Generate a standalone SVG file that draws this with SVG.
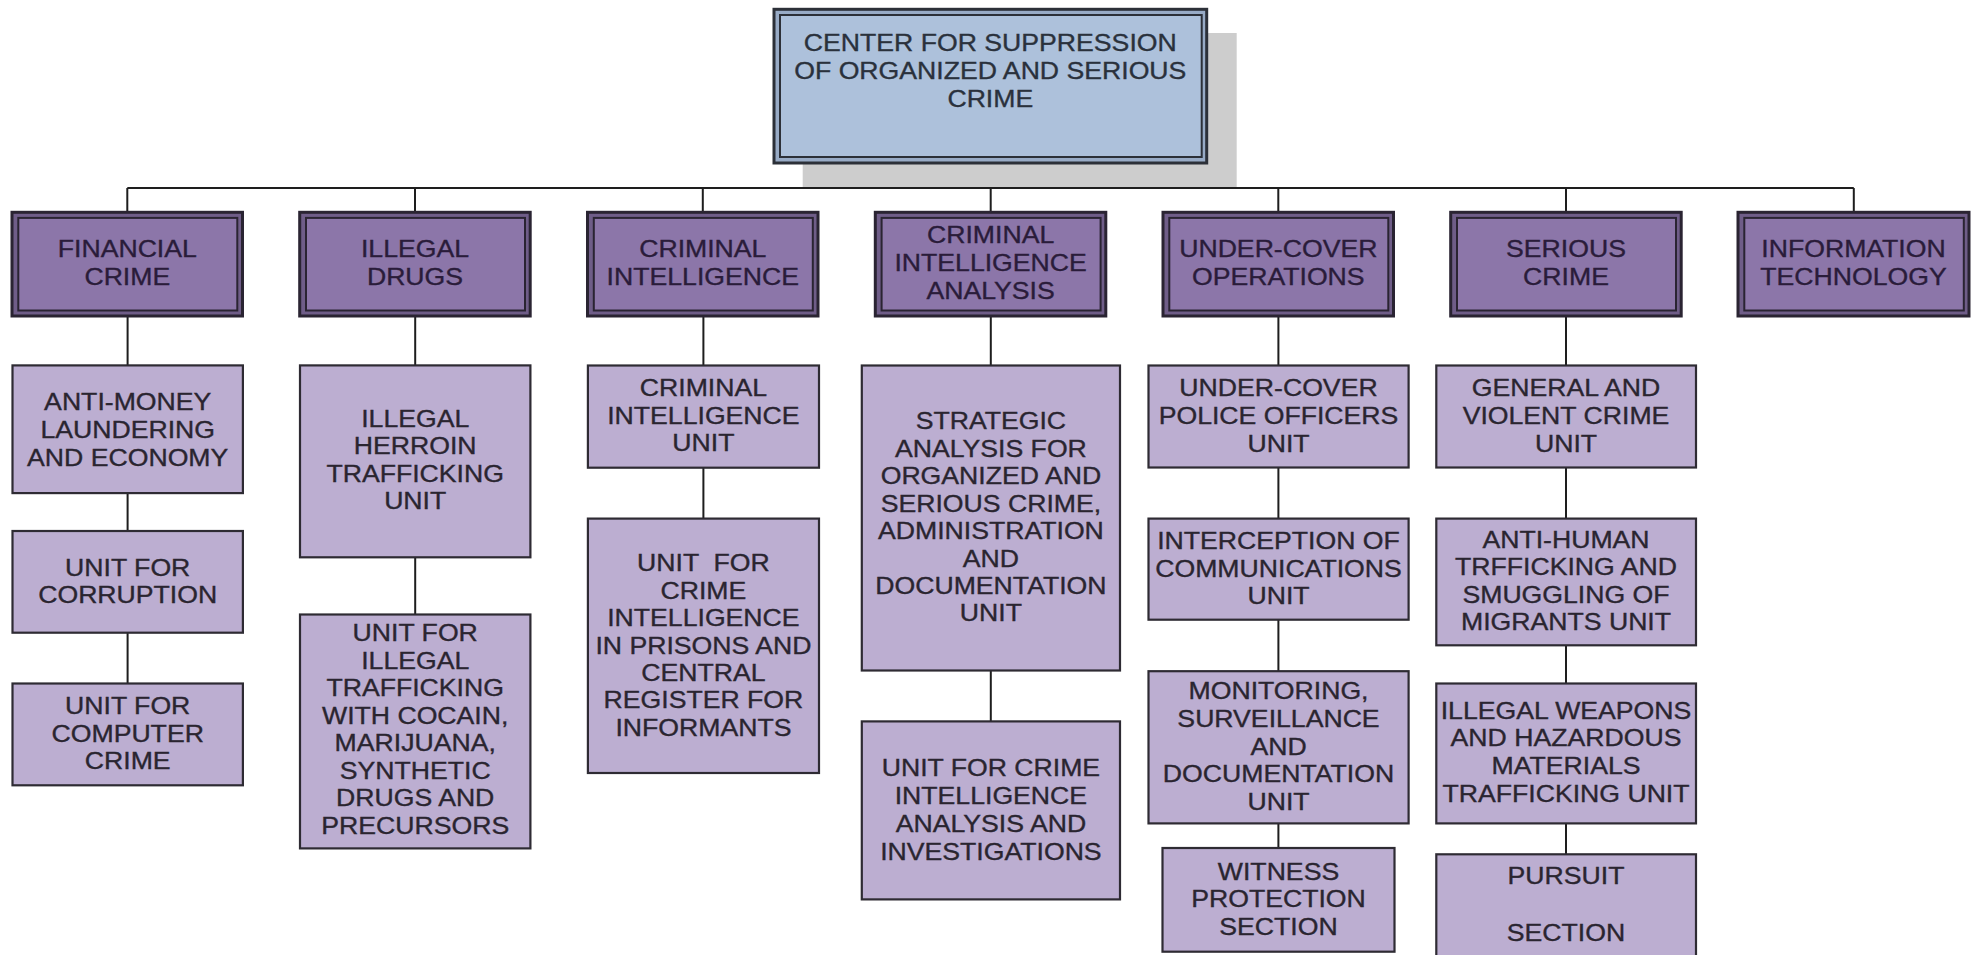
<svg xmlns="http://www.w3.org/2000/svg" width="1973" height="955" viewBox="0 0 1973 955">
<style>
.bg{fill:#ffffff}
.shadow{fill:#cdcdcd}
.topo{fill:#98abc6;stroke:#2c3038;stroke-width:3}
.topi{fill:#adc1db;stroke:#2c3038;stroke-width:2}
.l1o{fill:#6f5d88;stroke:#2a2432;stroke-width:3}
.l1i{fill:#8c76a9;stroke:#2a2432;stroke-width:2}
.l2{fill:#bcaed1;stroke:#2e2b33;stroke-width:2.2}
.c{fill:none;stroke:#1e1e1e;stroke-width:2}
.c3{fill:none;stroke:#1e1e1e;stroke-width:3.2}
text{font-family:"Liberation Sans",Arial,sans-serif;font-size:24px;text-anchor:middle;stroke-width:0.35px}
.tt{fill:#2a313c;stroke:#2a313c}
.t1{fill:#2a1c3a;stroke:#2a1c3a}
.t2{fill:#2a2530;stroke:#2a2530}
</style>
<rect class="bg" x="0" y="0" width="1973" height="955"/>

<g id="connectors">
<path class="c3" d="M990.7 163 V188"/>
<path class="c" d="M127.3 188 H1853.8"/>
<path class="c" d="M127.3 188 V212 M415 188 V212 M702.8 188 V212 M990.7 188 V212 M1278.3 188 V212 M1566 188 V212 M1853.8 188 V212"/>
<path class="c" d="M127.6 316 V365.4 M127.6 493.1 V531 M127.6 632.7 V683.5"/>
<path class="c" d="M415.2 316 V365.4 M415.2 557.3 V614.5"/>
<path class="c" d="M703.4 316 V365.5 M703.4 467.7 V518.6"/>
<path class="c" d="M990.8 316 V365.5 M990.8 670.5 V721.4"/>
<path class="c" d="M1278.4 316 V365.5 M1278.4 467.5 V518.6 M1278.4 619.7 V671.2 M1278.4 823.4 V848"/>
<path class="c" d="M1566 316 V365.5 M1566 467.5 V518.6 M1566 645.3 V683.5 M1566 823.4 V854.3"/>
</g>

<g id="center">
<rect class="shadow" x="802.7" y="33" width="434" height="154"/>
<rect class="topo" x="774" y="9.3" width="432.7" height="153.7"/>
<rect class="topi" x="780" y="15" width="421.7" height="142"/>
<g transform="translate(990.3 0) scale(1.11 1)">
<text x="0" y="50.7" class="tt">CENTER FOR SUPPRESSION</text>
<text x="0" y="79" class="tt">OF ORGANIZED AND SERIOUS</text>
<text x="0" y="107.3" class="tt">CRIME</text>
</g>
</g>

<g id="financial-crime">
<rect class="l1o" x="12" y="212.3" width="230.5" height="103.7"/>
<rect class="l1i" x="18.3" y="217.9" width="219" height="92.6"/>
<g transform="translate(127.3 0) scale(1.11 1)"><text x="0" y="257.5" class="t1">FINANCIAL</text><text x="0" y="285.5" class="t1">CRIME</text></g>
</g>
<g id="illegal-drugs">
<rect class="l1o" x="299.7" y="212.3" width="230.5" height="103.7"/>
<rect class="l1i" x="306" y="217.9" width="219" height="92.6"/>
<g transform="translate(415 0) scale(1.11 1)"><text x="0" y="257.5" class="t1">ILLEGAL</text><text x="0" y="285.5" class="t1">DRUGS</text></g>
</g>
<g id="criminal-intelligence">
<rect class="l1o" x="587.5" y="212.3" width="230.5" height="103.7"/>
<rect class="l1i" x="593.8" y="217.9" width="219" height="92.6"/>
<g transform="translate(702.8 0) scale(1.11 1)"><text x="0" y="257.5" class="t1">CRIMINAL</text><text x="0" y="285.5" class="t1">INTELLIGENCE</text></g>
</g>
<g id="criminal-intelligence-analysis">
<rect class="l1o" x="875.3" y="212.3" width="230.5" height="103.7"/>
<rect class="l1i" x="881.6" y="217.9" width="219" height="92.6"/>
<g transform="translate(990.6 0) scale(1.11 1)"><text x="0" y="242.7" class="t1">CRIMINAL</text><text x="0" y="270.7" class="t1">INTELLIGENCE</text><text x="0" y="299" class="t1">ANALYSIS</text></g>
</g>
<g id="under-cover-operations">
<rect class="l1o" x="1163" y="212.3" width="230.5" height="103.7"/>
<rect class="l1i" x="1169.3" y="217.9" width="219" height="92.6"/>
<g transform="translate(1278.3 0) scale(1.11 1)"><text x="0" y="257.5" class="t1">UNDER-COVER</text><text x="0" y="285.5" class="t1">OPERATIONS</text></g>
</g>
<g id="serious-crime">
<rect class="l1o" x="1450.7" y="212.3" width="230.5" height="103.7"/>
<rect class="l1i" x="1457" y="217.9" width="219" height="92.6"/>
<g transform="translate(1566 0) scale(1.11 1)"><text x="0" y="257.5" class="t1">SERIOUS</text><text x="0" y="285.5" class="t1">CRIME</text></g>
</g>
<g id="information-technology">
<rect class="l1o" x="1738" y="212.3" width="231" height="103.7"/>
<rect class="l1i" x="1744.3" y="217.9" width="219.5" height="92.6"/>
<g transform="translate(1853.5 0) scale(1.11 1)"><text x="0" y="257.5" class="t1">INFORMATION</text><text x="0" y="285.5" class="t1">TECHNOLOGY</text></g>
</g>

<g id="anti-money-laundering">
<rect class="l2" x="12.5" y="365.4" width="230.4" height="127.7"/>
<g transform="translate(127.7 0) scale(1.11 1)"><text x="0" y="410" class="t2">ANTI-MONEY</text><text x="0" y="438" class="t2">LAUNDERING</text><text x="0" y="466" class="t2">AND ECONOMY</text></g>
</g>
<g id="unit-corruption">
<rect class="l2" x="12.5" y="531" width="230.4" height="101.7"/>
<g transform="translate(127.7 0) scale(1.11 1)"><text x="0" y="576" class="t2">UNIT FOR</text><text x="0" y="603.5" class="t2">CORRUPTION</text></g>
</g>
<g id="unit-computer-crime">
<rect class="l2" x="12.5" y="683.5" width="230.4" height="101.8"/>
<g transform="translate(127.7 0) scale(1.11 1)"><text x="0" y="714" class="t2">UNIT FOR</text><text x="0" y="742" class="t2">COMPUTER</text><text x="0" y="769.5" class="t2">CRIME</text></g>
</g>

<g id="herroin-unit">
<rect class="l2" x="300" y="365.4" width="230.4" height="191.9"/>
<g transform="translate(415.2 0) scale(1.11 1)"><text x="0" y="427" class="t2">ILLEGAL</text><text x="0" y="454.5" class="t2">HERROIN</text><text x="0" y="482" class="t2">TRAFFICKING</text><text x="0" y="509.5" class="t2">UNIT</text></g>
</g>
<g id="cocain-unit">
<rect class="l2" x="300" y="614.5" width="230.4" height="233.9"/>
<g transform="translate(415.2 0) scale(1.11 1)"><text x="0" y="641.5" class="t2">UNIT FOR</text><text x="0" y="669" class="t2">ILLEGAL</text><text x="0" y="696.4" class="t2">TRAFFICKING</text><text x="0" y="723.9" class="t2">WITH COCAIN,</text><text x="0" y="751.3" class="t2">MARIJUANA,</text><text x="0" y="778.8" class="t2">SYNTHETIC</text><text x="0" y="806.3" class="t2">DRUGS AND</text><text x="0" y="833.7" class="t2">PRECURSORS</text></g>
</g>

<g id="criminal-intelligence-unit">
<rect class="l2" x="587.9" y="365.5" width="231.1" height="102.2"/>
<g transform="translate(703.4 0) scale(1.11 1)"><text x="0" y="396.5" class="t2">CRIMINAL</text><text x="0" y="424" class="t2">INTELLIGENCE</text><text x="0" y="451.5" class="t2">UNIT</text></g>
</g>
<g id="prisons-unit">
<rect class="l2" x="587.9" y="518.6" width="231.1" height="254.4"/>
<g transform="translate(703.4 0) scale(1.11 1)"><text x="0" y="571.4" class="t2" xml:space="preserve">UNIT  FOR</text><text x="0" y="598.8" class="t2">CRIME</text><text x="0" y="626.2" class="t2">INTELLIGENCE</text><text x="0" y="653.6" class="t2">IN PRISONS AND</text><text x="0" y="681" class="t2">CENTRAL</text><text x="0" y="708.4" class="t2">REGISTER FOR</text><text x="0" y="735.8" class="t2">INFORMANTS</text></g>
</g>

<g id="strategic-analysis-unit">
<rect class="l2" x="861.8" y="365.5" width="258.2" height="305"/>
<g transform="translate(990.9 0) scale(1.11 1)"><text x="0" y="429.4" class="t2">STRATEGIC</text><text x="0" y="456.8" class="t2">ANALYSIS FOR</text><text x="0" y="484.3" class="t2">ORGANIZED AND</text><text x="0" y="511.7" class="t2">SERIOUS CRIME,</text><text x="0" y="539.1" class="t2">ADMINISTRATION</text><text x="0" y="566.6" class="t2">AND</text><text x="0" y="594" class="t2">DOCUMENTATION</text><text x="0" y="621.4" class="t2">UNIT</text></g>
</g>
<g id="crime-intelligence-analysis-unit">
<rect class="l2" x="861.8" y="721.4" width="258.2" height="178"/>
<g transform="translate(990.9 0) scale(1.11 1)"><text x="0" y="776" class="t2">UNIT FOR CRIME</text><text x="0" y="804" class="t2">INTELLIGENCE</text><text x="0" y="832" class="t2">ANALYSIS AND</text><text x="0" y="860" class="t2">INVESTIGATIONS</text></g>
</g>

<g id="under-cover-officers-unit">
<rect class="l2" x="1148.5" y="365.5" width="260.1" height="102"/>
<g transform="translate(1278.5 0) scale(1.11 1)"><text x="0" y="396.4" class="t2">UNDER-COVER</text><text x="0" y="423.9" class="t2">POLICE OFFICERS</text><text x="0" y="451.9" class="t2">UNIT</text></g>
</g>
<g id="interception-unit">
<rect class="l2" x="1148.5" y="518.6" width="260.1" height="101.1"/>
<g transform="translate(1278.5 0) scale(1.11 1)"><text x="0" y="548.6" class="t2">INTERCEPTION OF</text><text x="0" y="576.6" class="t2">COMMUNICATIONS</text><text x="0" y="604.1" class="t2">UNIT</text></g>
</g>
<g id="monitoring-unit">
<rect class="l2" x="1148.5" y="671.2" width="260.1" height="152.2"/>
<g transform="translate(1278.5 0) scale(1.11 1)"><text x="0" y="698.7" class="t2">MONITORING,</text><text x="0" y="727" class="t2">SURVEILLANCE</text><text x="0" y="755" class="t2">AND</text><text x="0" y="782.5" class="t2">DOCUMENTATION</text><text x="0" y="810" class="t2">UNIT</text></g>
</g>
<g id="witness-protection">
<rect class="l2" x="1162.5" y="848" width="232" height="103.7"/>
<g transform="translate(1278.5 0) scale(1.11 1)"><text x="0" y="880" class="t2">WITNESS</text><text x="0" y="907.5" class="t2">PROTECTION</text><text x="0" y="935" class="t2">SECTION</text></g>
</g>

<g id="general-violent-crime-unit">
<rect class="l2" x="1436.3" y="365.5" width="259.7" height="102"/>
<g transform="translate(1566 0) scale(1.11 1)"><text x="0" y="396.4" class="t2">GENERAL AND</text><text x="0" y="423.9" class="t2">VIOLENT CRIME</text><text x="0" y="451.9" class="t2">UNIT</text></g>
</g>
<g id="anti-human-trafficking-unit">
<rect class="l2" x="1436.3" y="518.6" width="259.7" height="126.7"/>
<g transform="translate(1566 0) scale(1.11 1)"><text x="0" y="547.8" class="t2">ANTI-HUMAN</text><text x="0" y="575.3" class="t2">TRFFICKING AND</text><text x="0" y="602.9" class="t2">SMUGGLING OF</text><text x="0" y="630.4" class="t2">MIGRANTS UNIT</text></g>
</g>
<g id="illegal-weapons-unit">
<rect class="l2" x="1436.3" y="683.5" width="259.7" height="139.9"/>
<g transform="translate(1566 0) scale(1.11 1)"><text x="0" y="719.3" class="t2">ILLEGAL WEAPONS</text><text x="0" y="746.5" class="t2">AND HAZARDOUS</text><text x="0" y="774" class="t2">MATERIALS</text><text x="0" y="801.6" class="t2">TRAFFICKING UNIT</text></g>
</g>
<g id="pursuit-section">
<rect class="l2" x="1436.3" y="854.3" width="259.7" height="110"/>
<g transform="translate(1566 0) scale(1.11 1)"><text x="0" y="884" class="t2">PURSUIT</text><text x="0" y="940.7" class="t2">SECTION</text></g>
</g>
</svg>
